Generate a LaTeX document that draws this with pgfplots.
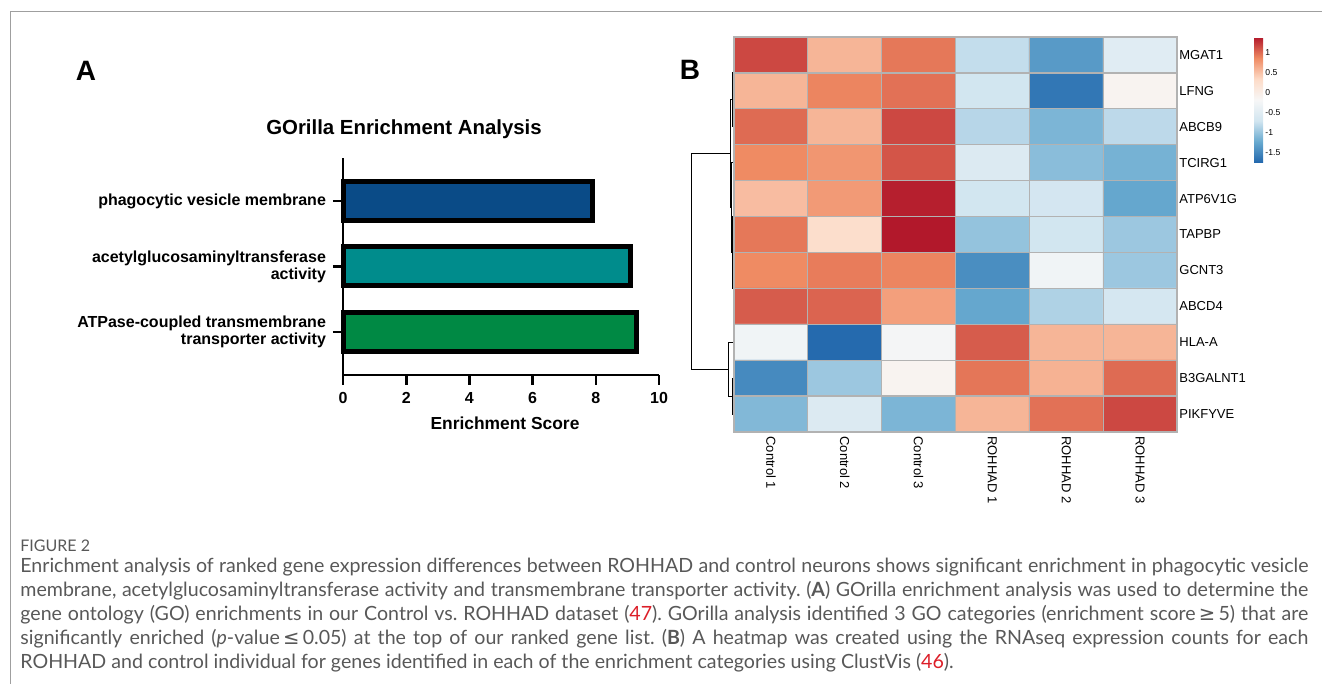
\documentclass[border=0pt]{standalone}
\usepackage{fontspec}
\setmainfont{Liberation Sans}
\newfontfamily\capfont{Lato}
\newfontfamily\symfont{DejaVu Sans}
\usepackage{pgfplots}
\usepackage{pgfplotstable}
\pgfplotsset{compat=1.18}
\definecolor{barblue}{RGB}{10,75,135}
\definecolor{barteal}{RGB}{0,140,140}
\definecolor{bargreen}{RGB}{0,137,68}
\definecolor{capgrey}{RGB}{88,88,88}
\definecolor{refred}{RGB}{220,30,40}

% heatmap: column, row, z-score
\pgfplotstableread{
x y c
1 1 1.18
2 1 0.60
3 1 0.96
4 1 -0.77
5 1 -1.34
6 1 -0.49
1 2 0.60
2 2 0.90
3 2 0.99
4 2 -0.68
5 2 -1.62
6 2 -0.10
1 3 1.02
2 3 0.60
3 3 1.18
4 3 -0.83
5 3 -1.12
6 3 -0.80
1 4 0.87
2 4 0.80
3 4 1.12
4 4 -0.55
5 4 -1.05
6 4 -1.15
1 5 0.55
2 5 0.77
3 5 1.37
4 5 -0.68
5 5 -0.66
6 5 -1.24
1 6 0.96
2 6 0.30
3 6 1.40
4 6 -1.00
5 6 -0.68
6 6 -0.96
1 7 0.87
2 7 0.94
3 7 0.90
4 7 -1.44
5 7 -0.27
6 7 -0.96
1 8 1.09
2 8 1.05
3 8 0.74
4 8 -1.24
5 8 -0.87
6 8 -0.65
1 9 -0.27
2 9 -1.72
3 9 -0.22
4 9 1.09
5 9 0.60
6 9 0.60
1 10 -1.47
2 10 -0.96
3 10 -0.10
4 10 0.97
5 10 0.62
6 10 1.02
1 11 -1.09
2 11 -0.55
3 11 -1.12
4 11 0.60
5 11 0.99
6 11 1.18
}\heat

\begin{document}
\frenchspacing
\begin{tikzpicture}
\begin{scope}[x=0.5pt,y=-0.5pt]
\useasboundingbox (0,0) rectangle (1322,684);
\draw[gray!75, line width=0.5pt] (10,684) -- (10,12) -- (1322,12);
\node[font=\bfseries\fontsize{14}{14}\selectfont] at (86,71) {A};
\node[font=\bfseries\fontsize{14}{14}\selectfont] at (690,70) {B};
\node[font=\bfseries\fontsize{10.2}{11}\selectfont] at (404,129) {GOrilla Enrichment Analysis};
\node[font=\bfseries\fontsize{8.7}{9}\selectfont] at (505,423) {Enrichment Score};
\node[anchor=west, inner sep=0pt, text=capgrey, font=\capfont\fontsize{8}{8}\selectfont] at (20,546) {FIGURE 2};
\begin{scope}[every node/.style={anchor=base west, inner sep=0pt, text=capgrey, font=\capfont\fontsize{9.8}{12}\selectfont}]
\node at (20,572) {\makebox[644pt][s]{Enrichment analysis of ranked gene expression differences between ROHHAD and control neurons shows significant enrichment in phagocytic vesicle}};
\node at (20,596) {\makebox[644pt][s]{membrane, acetylglucosaminyltransferase activity and transmembrane transporter activity. (\textbf{A}) GOrilla enrichment analysis was used to determine the}};
\node at (20,620) {\makebox[644pt][s]{gene ontology (GO) enrichments in our Control vs. ROHHAD dataset (\textcolor{refred}{47}). GOrilla analysis identified 3 GO categories (enrichment score\,{\symfont ≥}\,5) that are}};
\node at (20,644) {\makebox[644pt][s]{significantly enriched (\textit{p}-value\,{\symfont ≤}\,0.05) at the top of our ranked gene list. (\textbf{B}) A heatmap was created using the RNAseq expression counts for each}};
\node at (20,668) {ROHHAD and control individual for genes identified in each of the enrichment categories using ClustVis (\textcolor{refred}{46}).};
\end{scope}
\end{scope}

% panel A: bar chart
\begin{axis}[at={(171.5pt,-79pt)}, anchor=north west, scale only axis,
  width=158pt, height=108.5pt,
  xbar, bar width=19.5pt,
  xmin=0, xmax=10, ymin=0.34, ymax=3.66,
  axis x line*=bottom, axis y line*=left,
  axis line style={line width=1.3pt, -},
  xtick={0,2,...,10}, ytick={1,2,3},
  yticklabels={{ATPase-coupled transmembrane\\transporter activity},{acetylglucosaminyltransferase\\activity},{phagocytic vesicle membrane}},
  tick align=outside, major tick length=5pt,
  tick style={line width=1.3pt, black},
  xticklabel style={font=\bfseries\fontsize{8}{9}\selectfont, /pgf/number format/assume math mode=true},
  yticklabel style={font=\bfseries\fontsize{8}{8.5}\selectfont, align=right},
  clip=false]
\addplot[fill=bargreen, draw=black, line width=2.5pt, bar shift=0pt] coordinates {(9.3,1)};
\addplot[fill=barteal, draw=black, line width=2.5pt, bar shift=0pt] coordinates {(9.1,2)};
\addplot[fill=barblue, draw=black, line width=2.5pt, bar shift=0pt] coordinates {(7.9,3)};
\end{axis}

% panel B: heatmap with dendrogram
\begin{axis}[at={(367pt,-18.5pt)}, anchor=north west, scale only axis,
  width=221.5pt, height=197.5pt,
  xmin=0.5, xmax=6.5, ymin=0.5, ymax=11.5, y dir=reverse,
  clip=false, axis on top,
  colormap={clustvis}{rgb255=(33,102,172) rgb255=(103,169,207) rgb255=(209,229,240) rgb255=(247,247,247) rgb255=(253,219,199) rgb255=(239,138,98) rgb255=(178,24,43)},
  point meta min=-1.75, point meta max=1.4,
  xtick={1,...,6},
  xticklabels={Control 1,Control 2,Control 3,ROHHAD 1,ROHHAD 2,ROHHAD 3},
  ytick={1,...,11},
  yticklabels={MGAT1,LFNG,ABCB9,TCIRG1,ATP6V1G,TAPBP,GCNT3,ABCD4,HLA-A,B3GALNT1,PIKFYVE},
  yticklabel pos=right,
  minor xtick={0.5,1.5,...,6.5}, minor ytick={0.5,1.5,...,11.5},
  grid=minor, minor grid style={color=gray!60, line width=0.6pt},
  major tick length=0pt, minor tick length=0pt,
  axis line style={gray!60, line width=0.6pt},
  tick label style={font=\fontsize{6.5}{7}\selectfont},
  xticklabel style={rotate=-90, anchor=west, inner sep=2pt},
  yticklabel style={anchor=west, inner sep=1pt},
  colorbar,
  colorbar style={at={(parent axis.north east)}, anchor=north west, xshift=30pt,
    scale only axis, width=4.5pt, height=63pt,
    ytick={-1.5,-1,-0.5,0,0.5,1}, major tick length=0pt,
    axis line style={draw=none},
    yticklabel style={font=\fontsize{4.3}{5}\selectfont, inner sep=1pt, /pgf/number format/assume math mode=true}}]
\addplot[matrix plot*, mesh/cols=6, point meta=explicit] table[x=x, y=y, meta=c] {\heat};
% dendrogram
\addplot[black, line width=0.5pt, mark=none] coordinates {(0.5,1) (0.4865,1) (0.4865,2) (0.5,2)};
\addplot[black, line width=0.5pt, mark=none] coordinates {(0.4865,1.5) (0.473,1.5) (0.473,3) (0.5,3)};
\addplot[black, line width=0.5pt, mark=none] coordinates {(0.5,5) (0.4865,5) (0.4865,6) (0.5,6)};
\addplot[black, line width=0.5pt, mark=none] coordinates {(0.5,7) (0.4865,7) (0.4865,8) (0.5,8)};
\addplot[black, line width=0.5pt, mark=none] coordinates {(0.4865,5.5) (0.473,5.5) (0.473,7.5) (0.4865,7.5)};
\addplot[black, line width=0.5pt, mark=none] coordinates {(0.5,4) (0.466,4) (0.466,6.5) (0.473,6.5)};
\addplot[black, line width=0.5pt, mark=none] coordinates {(0.473,2.25) (0.452,2.25) (0.452,5.25) (0.466,5.25)};
\addplot[black, line width=0.5pt, mark=none] coordinates {(0.5,10) (0.473,10) (0.473,11) (0.5,11)};
\addplot[black, line width=0.5pt, mark=none] coordinates {(0.5,9) (0.419,9) (0.419,10.5) (0.473,10.5)};
\addplot[black, line width=0.5pt, mark=none] coordinates {(0.452,3.75) (-0.082,3.75) (-0.082,9.75) (0.419,9.75)};
\end{axis}
\end{tikzpicture}
\end{document}
